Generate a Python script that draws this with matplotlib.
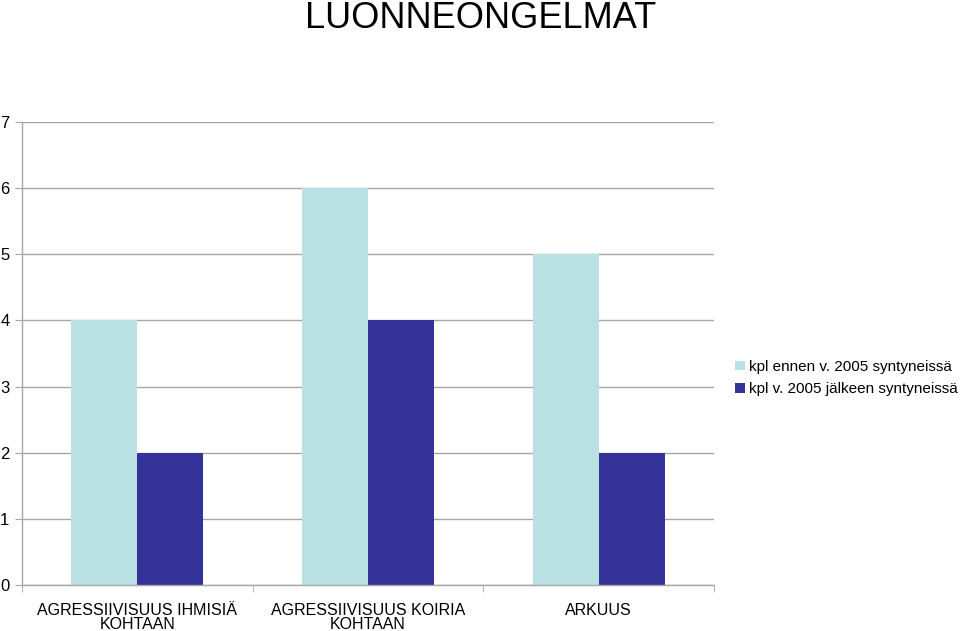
import matplotlib.pyplot as plt
import numpy as np

plt.rcParams['font.family'] = ['Liberation Sans', 'DejaVu Sans']

# --- Data ---
categories = ['AGRESSIIVISUUS IHMISIÄ\nKOHTAAN', 'AGRESSIIVISUUS KOIRIA\nKOHTAAN', 'ARKUUS']
before_2005 = [4, 6, 5]
after_2005 = [2, 4, 2]
series_labels = ['kpl ennen v. 2005 syntyneissä', 'kpl v. 2005 jälkeen syntyneissä']
y_ticks = [0, 1, 2, 3, 4, 5, 6, 7]

grid_col = '#A6A6A6'

fig = plt.figure(figsize=(9.6, 6.31), dpi=100)
ax = fig.add_axes([0.0229, 0.0729, 0.7209, 0.7338])

x = np.arange(len(categories))
w = 0.286
b1 = ax.bar(x - w / 2, before_2005, w, color='#B9E0E3', label=series_labels[0], zorder=2)
b2 = ax.bar(x + w / 2, after_2005, w, color='#333399', label=series_labels[1], zorder=2)

ax.set_xlim(-0.5, len(categories) - 0.5)
ax.set_ylim(0, 7)
ax.set_yticks(y_ticks)
ax.tick_params(axis='y', length=5, color=grid_col, labelsize=12, pad=4)
ax.yaxis.grid(True, color=grid_col, linewidth=1, zorder=0)

# category labels centred, boundary ticks between categories
ax.set_xticks(x)
ax.set_xticklabels(categories, fontsize=11.5, linespacing=0.9)
ax.tick_params(axis='x', length=0, pad=13)
ax.set_xticks(np.arange(-0.5, len(categories)), minor=True)
ax.tick_params(axis='x', which='minor', length=5, color=grid_col)

for s in ['top', 'right']:
    ax.spines[s].set_visible(False)
for s in ['left', 'bottom']:
    ax.spines[s].set_color(grid_col)
    ax.spines[s].set_linewidth(1)

fig.text(0.501, 0.97, 'LUONNEONGELMAT', ha='center', va='center', fontsize=26)

fig.legend(handles=[b1, b2], loc='center left', bbox_to_anchor=(0.766, 0.401),
           frameon=False, fontsize=11, handlelength=0.6, handleheight=0.6,
           handletextpad=0.3, labelspacing=0.55, borderaxespad=0, borderpad=0)

plt.savefig('out.png', dpi=100)
plt.close()
